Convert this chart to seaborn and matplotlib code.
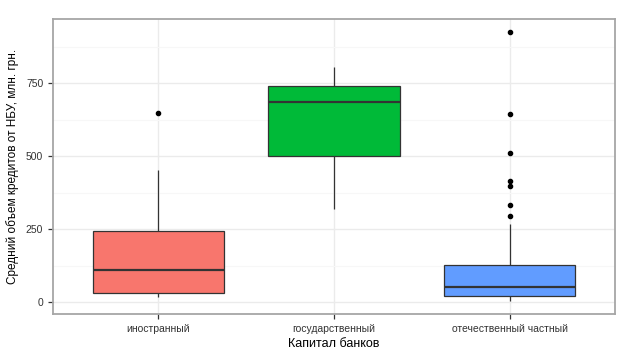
import seaborn as sns
import pandas as pd
import matplotlib.pyplot as plt
from matplotlib.ticker import MultipleLocator

plt.rcParams['font.family'] = ['Liberation Sans', 'DejaVu Sans']

# Capital type of banks (x categories)
categories = ["иностранный", "государственный", "отечественный частный"]

# average NBU credit volume per bank, mln UAH
foreign = [17, 25, 32, 70, 111, 180, 246, 452, 650]
state = [321, 503, 685, 742, 807]
domestic = [6, 8, 10, 12, 14, 15, 17, 19, 20, 24, 28, 32, 36, 40, 44, 49, 54,
            60, 68, 76, 85, 95, 105, 117, 129, 267,
            295, 335, 399, 416, 511, 645, 925]

colors = ["#F8766D", "#00BA38", "#619CFF"]
y_ticks = [0, 250, 500, 750]

rows = [[categories[0], v] for v in foreign] + \
       [[categories[1], v] for v in state] + \
       [[categories[2], v] for v in domestic]
df = pd.DataFrame(rows, columns=["capital", "value"])

fig = plt.figure(figsize=(6.34, 3.58), dpi=100)
ax = fig.add_axes([53 / 634, 1 - 314 / 358, 562 / 634, 295 / 358])

sns.boxplot(data=df, x="capital", y="value", hue="capital", order=categories,
            palette=colors, saturation=1, width=0.75, legend=False, ax=ax,
            linecolor="#333333", linewidth=0.9, showcaps=False,
            medianprops=dict(color="#333333", linewidth=1.6),
            flierprops=dict(marker="o", markerfacecolor="black",
                            markeredgecolor="black", markersize=3))

ax.set_xlim(-0.6, 2.6)
ax.set_ylim(-40, 971)
ax.yaxis.set_minor_locator(MultipleLocator(125))
ax.set_yticks(y_ticks)

ax.set_axisbelow(True)
ax.grid(which="major", color="#EBEBEB", linewidth=1.0)
ax.grid(which="minor", axis="y", color="#F7F7F7", linewidth=0.8)
ax.tick_params(which="minor", left=False)

for s in ax.spines.values():
    s.set_color("#A6A6A6")
    s.set_linewidth(1.3)

ax.tick_params(axis="both", which="major", length=3.5, width=0.9,
               color="#333333", labelcolor="#333333", labelsize=7.5)

ax.set_xlabel("Капитал банков", fontsize=9, color="black", labelpad=3)
ax.set_ylabel("Средний объем кредитов от НБУ, млн. грн.", fontsize=8.5,
              color="black", labelpad=5)

plt.savefig("out.png", dpi=100)
